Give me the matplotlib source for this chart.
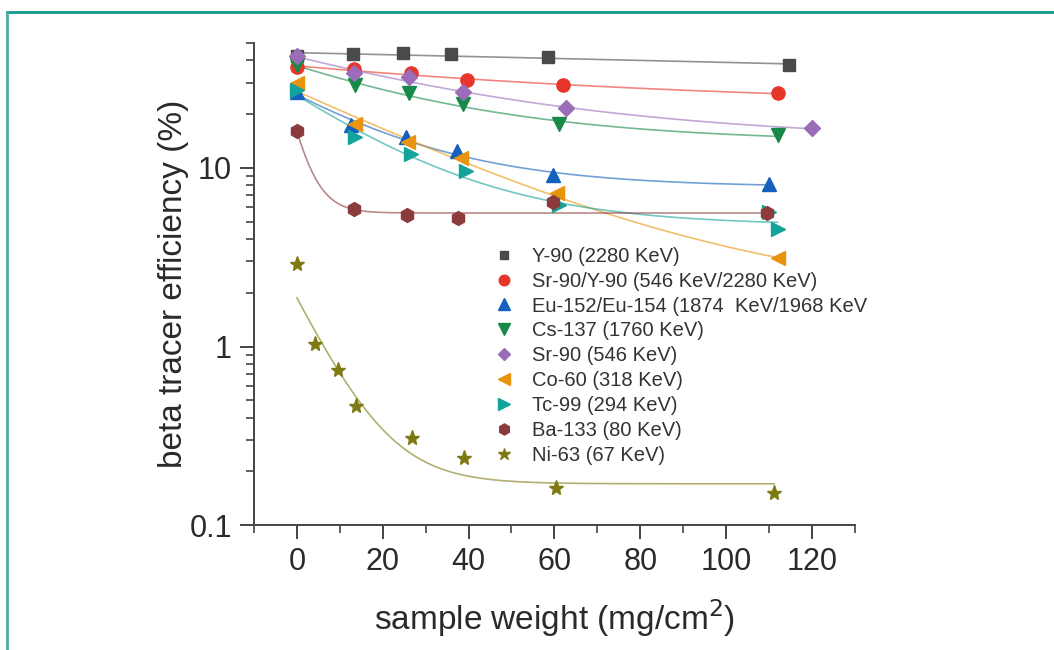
import numpy as np
import matplotlib
matplotlib.use("Agg")
import matplotlib.pyplot as plt
from matplotlib.lines import Line2D
from matplotlib.ticker import MultipleLocator, LogLocator, NullFormatter, FixedLocator

plt.rcParams['font.family'] = ['Liberation Sans', 'DejaVu Sans']

# data: sample weight (mg/cm2) and efficiency (%)
y90_x = [0, 13.1, 24.8, 36.0, 58.6, 114.7]
y90_y = [42.5, 43.2, 43.8, 43.2, 41.6, 37.5]

sry_x = [0, 13.3, 26.6, 39.7, 61.9, 112.1]
sry_y = [36.6, 35.6, 33.8, 30.9, 29.0, 26.1]

eu_x = [0, 12.6, 25.5, 37.4, 59.6, 110.0]
eu_y = [26.5, 17.3, 14.8, 12.4, 9.08, 8.08]

cs_x = [0, 13.6, 26.2, 38.8, 61.0, 112.0]
cs_y = [37.5, 29.0, 26.1, 22.7, 17.5, 15.2]

sr_x = [0, 13.3, 26.2, 38.8, 62.6, 120.0]
sr_y = [42.2, 33.8, 32.1, 26.5, 21.5, 16.6]

co_x = [0, 13.6, 25.9, 38.3, 60.5, 112.0]
co_y = [29.7, 17.5, 13.9, 11.3, 7.2, 3.11]

tc_x = [0, 13.6, 26.6, 39.3, 61.0, 110.0, 112.0]
tc_y = [27.2, 14.8, 11.9, 9.56, 6.17, 5.63, 4.52]

ba_x = [0, 13.3, 25.7, 37.6, 59.6, 109.6]
ba_y = [16.0, 5.86, 5.42, 5.21, 6.41, 5.56]

ni_x = [0, 4.2, 9.6, 13.8, 26.9, 39.0, 60.3, 111.2]
ni_y = [2.88, 1.03, 0.743, 0.467, 0.309, 0.239, 0.162, 0.152]

labels = ["Y-90 (2280 KeV)", "Sr-90/Y-90 (546 KeV/2280 KeV)",
          "Eu-152/Eu-154 (1874  KeV/1968 KeV", "Cs-137 (1760 KeV)",
          "Sr-90 (546 KeV)", "Co-60 (318 KeV)", "Tc-99 (294 KeV)",
          "Ba-133 (80 KeV)", "Ni-63 (67 KeV)"]

series = [(y90_x, y90_y), (sry_x, sry_y), (eu_x, eu_y), (cs_x, cs_y),
          (sr_x, sr_y), (co_x, co_y), (tc_x, tc_y), (ba_x, ba_y), (ni_x, ni_y)]

colors = ['#4a4a4a', '#e8352a', '#1560bd', '#178a4a', '#9b6cb8',
          '#e8940c', '#14a39a', '#8b3b3b', '#7d7a12']
markers = ['s', 'o', '^', 'v', 'D', '<', '>', 'h', '*']
sizes = [8, 9.5, 10, 10, 8, 10, 10, 10, 11]


def expfit(x, y):
    # y = y0 + A*exp(-x/t), relative weights, grid over t, linear lsq for y0, A
    x = np.asarray(x, float)
    y = np.asarray(y, float)
    w = 1.0 / y
    best = None
    for t in np.logspace(-0.3, 3.5, 800):
        M = np.column_stack([np.ones_like(x), np.exp(-x / t)])
        coef = np.linalg.lstsq(M * w[:, None], y * w, rcond=None)[0]
        sse = np.sum(((M @ coef - y) * w) ** 2)
        if best is None or sse < best[0]:
            best = (sse, coef[0], coef[1], t)
    return best[1:]


fig = plt.figure(figsize=(10.54, 6.5), dpi=100)
ax = fig.add_axes([0.241, 0.192, 0.570, 0.742])

for (x, y), c, m, s, lab in zip(series, colors, markers, sizes, labels):
    y0, A, t = expfit(x, y)
    xx = np.linspace(0, max(x), 300)
    ax.plot(xx, y0 + A * np.exp(-xx / t), color=c, alpha=0.6, lw=1.2, zorder=2)
    ax.plot(x, y, ls='none', marker=m, ms=s, color=c, mec=c, label=lab, zorder=3)

ax.set_yscale('log')
ax.set_ylim(0.1, 50)
ax.set_xlim(-10, 130)
ax.yaxis.set_major_locator(FixedLocator([0.1, 1, 10]))
ax.set_yticklabels(['0.1', '1', '10'])
ax.yaxis.set_minor_locator(LogLocator(base=10, subs=range(2, 10)))
ax.yaxis.set_minor_formatter(NullFormatter())
ax.xaxis.set_major_locator(FixedLocator(range(0, 121, 20)))
ax.xaxis.set_minor_locator(MultipleLocator(10))

for s in ['top', 'right']:
    ax.spines[s].set_visible(False)
for s in ['left', 'bottom']:
    ax.spines[s].set_color('#444444')
    ax.spines[s].set_linewidth(1.4)

ax.tick_params(which='major', length=10, width=1.4, color='#444444',
               labelsize=22, labelcolor='#2a2a2a', pad=6)
ax.tick_params(which='minor', length=6, width=1.2, color='#444444')

ax.set_ylabel('beta tracer efficiency (%)', fontsize=24, color='#2a2a2a', labelpad=0)
ax.set_xlabel('sample weight (mg/cm$^2$)', fontsize=24, color='#2a2a2a', labelpad=14)

leg = ax.legend(loc='upper left', bbox_to_anchor=(0.383, 0.598), frameon=False,
                fontsize=14.5, markerscale=0.8, handlelength=1.0, handletextpad=0.9,
                labelspacing=0.29, borderpad=0)
for txt in leg.get_texts():
    txt.set_color('#333333')

# teal frame around the figure
fig.add_artist(Line2D([7 / 1054, 1.0], [1 - 12 / 650, 1 - 12 / 650],
                      transform=fig.transFigure, color='#16978a', lw=2))
fig.add_artist(Line2D([7 / 1054, 7 / 1054], [0, 1 - 12 / 650],
                      transform=fig.transFigure, color='#4caca0', lw=2))

fig.savefig('out.png', dpi=100)
